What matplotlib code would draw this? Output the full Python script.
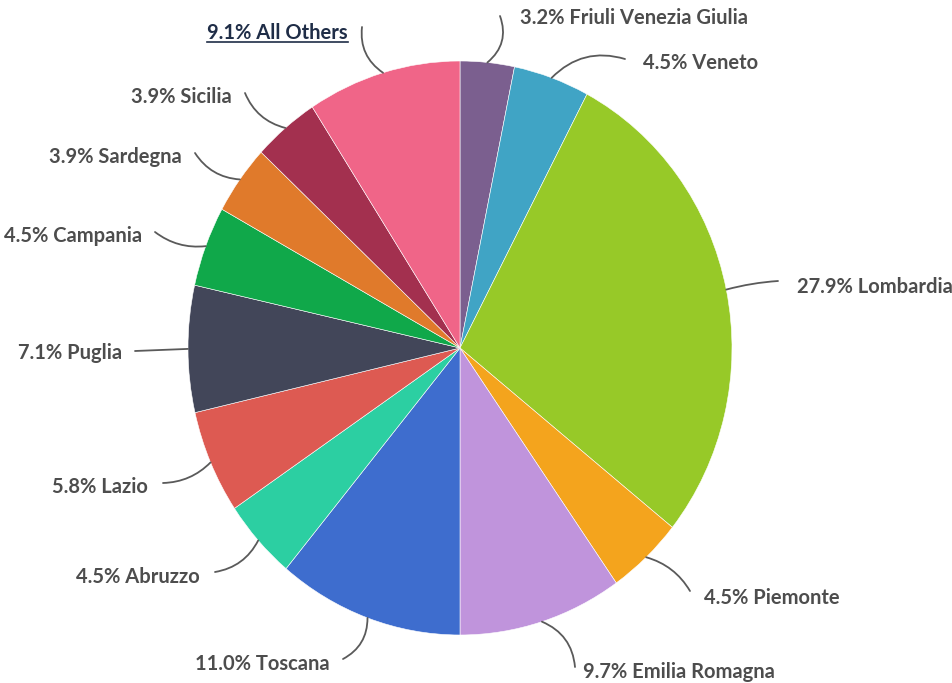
import matplotlib.pyplot as plt
import numpy as np
from matplotlib.lines import Line2D

# regional shares (%), clockwise from 12 o'clock
regions = ['Friuli Venezia Giulia', 'Veneto', 'Lombardia', 'Piemonte',
           'Emilia Romagna', 'Toscana', 'Abruzzo', 'Lazio', 'Puglia',
           'Campania', 'Sardegna', 'Sicilia', 'All Others']
shares = [3.2, 4.5, 27.9, 4.5, 9.7, 11.0, 4.5, 5.8, 7.1, 4.5, 3.9, 3.9, 9.1]
colors = ['#7b5f8f', '#40a4c5', '#97c928', '#f4a41d', '#c094dc', '#3e6dce',
          '#2ccfa2', '#dd5a52', '#424659', '#10a84a', '#e07a2b', '#a3304f',
          '#f06588']

# label placement in pixels (text anchor x, y) and the end of each leader line
label_xy = [(520, 18), (643, 63), (797, 287), (704, 598), (583, 672),
            (330, 664), (200, 577), (148, 487), (122, 353), (142, 236),
            (182, 157), (232, 97), (348, 33)]
line_end = [(500, 16), (625, 59), (778, 281), (690, 591), (575, 667),
            (343, 659), (215, 572), (163, 483), (135, 351), (155, 232),
            (195, 153), (245, 93), (362, 27)]
line_rad = [-0.35, 0.3, 0.05, 0.2, 0.3, 0.3, 0.25, 0.2, 0.0, 0.2, 0.25, 0.25, 0.3]

W, H = 953, 683
cx, cy, rx, ry = 460, 348, 272, 287


def px(x, y):
    return (x - cx) / rx, (cy - y) / ry


fig = plt.figure(figsize=(W / 100, H / 100), dpi=100)
ax = fig.add_axes([0, 0, 1, 1])

wedges, _ = ax.pie(shares, colors=colors, startangle=90, counterclock=False,
                   wedgeprops=dict(edgecolor='white', linewidth=0.4))
ax.set_aspect('auto')
ax.set_xlim(-cx / rx, (W - cx) / rx)
ax.set_ylim(-(H - cy) / ry, cy / ry)
ax.axis('off')

total = sum(shares)
start = 90.0
for i, (name, val) in enumerate(zip(regions, shares)):
    mid = np.radians(start - val / total * 360 / 2)
    start -= val / total * 360
    edge = (np.cos(mid), np.sin(mid))
    ax.annotate('', xy=edge, xytext=px(*line_end[i]),
                arrowprops=dict(arrowstyle='-', color='#5a5a5a', lw=1.3,
                                shrinkA=0, shrinkB=0,
                                connectionstyle=f'arc3,rad={line_rad[i]}'))
    tx, ty = px(*label_xy[i])
    ha = 'left' if label_xy[i][0] > cx else 'right'
    c = '#1f2d47' if name == 'All Others' else '#4d4d4d'
    t = ax.text(tx, ty, f'{val:.1f}% {name}', ha=ha, va='center',
                fontsize=14.5, fontfamily='Lato', fontweight='bold', color=c)
    if name == 'All Others':
        fig.canvas.draw()
        bb = t.get_window_extent()
        fig.add_artist(Line2D([bb.x0, bb.x1], [bb.y0 + 1, bb.y0 + 1],
                              transform=None, color=c, lw=1.2))

fig.savefig('out.png', dpi=100)
